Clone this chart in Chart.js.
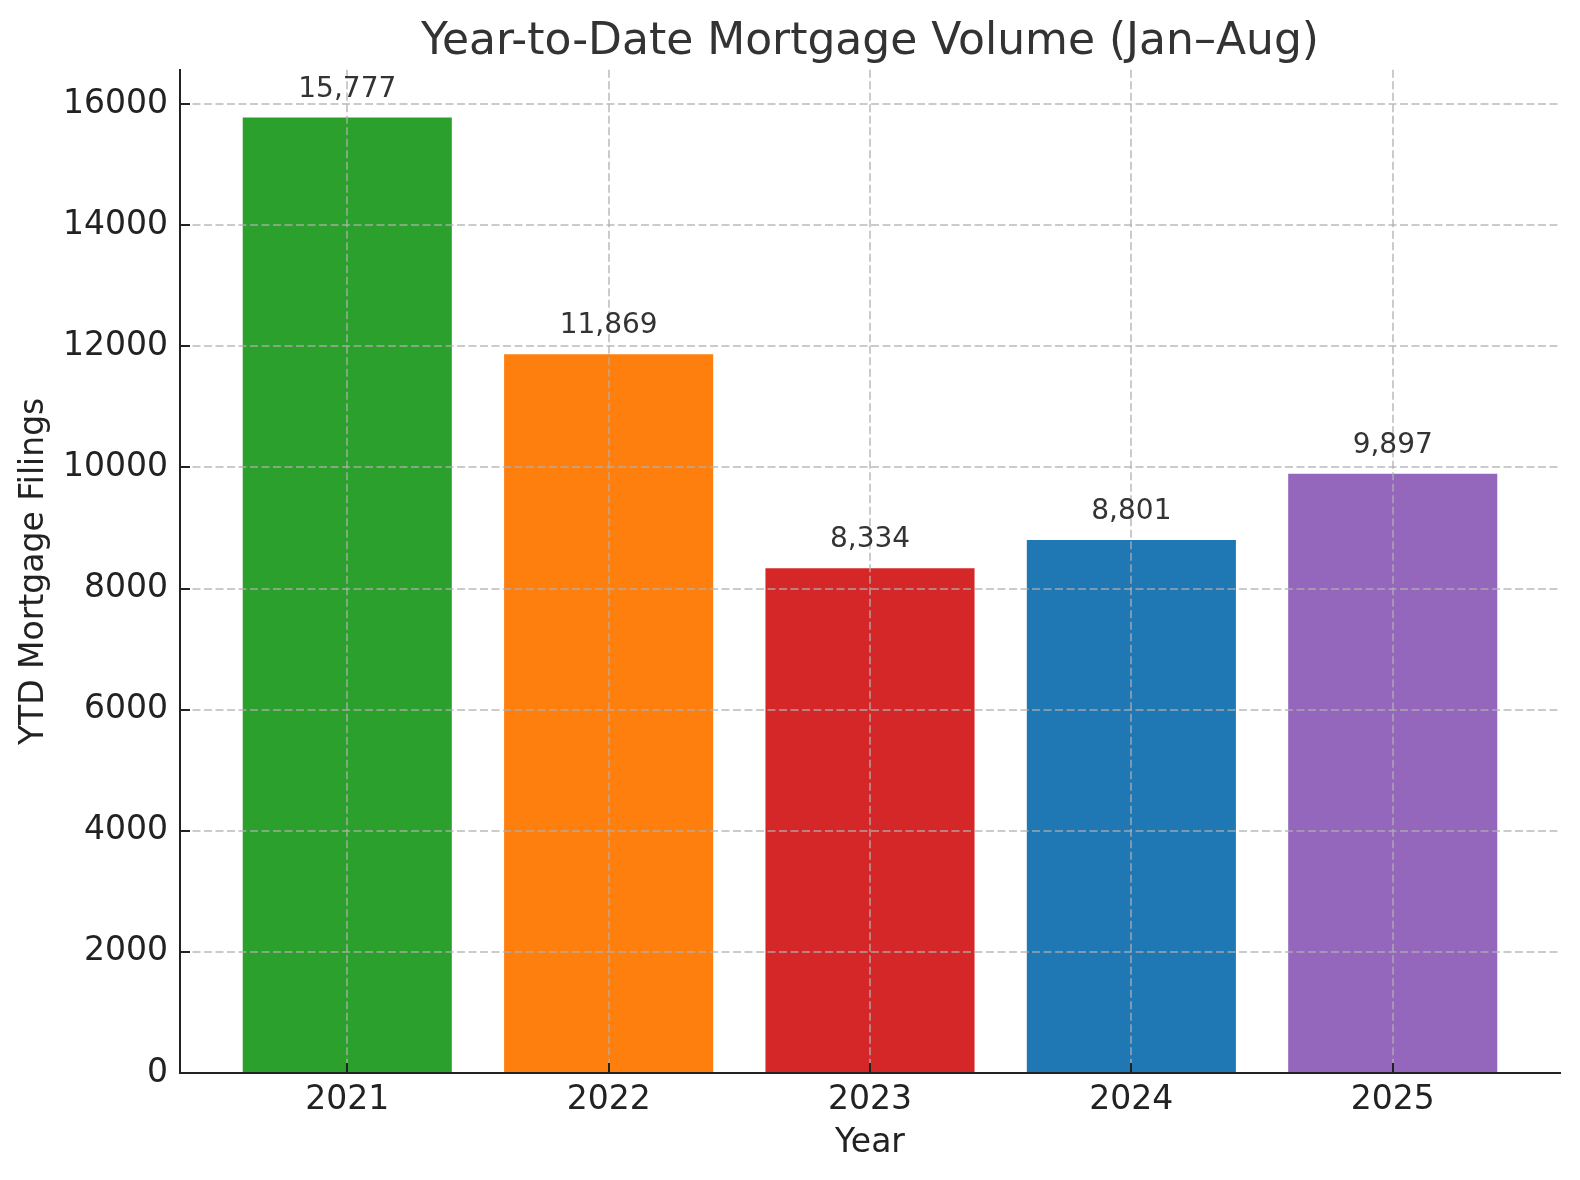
<!DOCTYPE html>
<html>
<head>
<meta charset="utf-8">
<title>Year-to-Date Mortgage Volume</title>
<script src="https://cdn.jsdelivr.net/npm/chart.js@4/dist/chart.umd.min.js"></script>
<style>
  html, body { margin:0; padding:0; background:#fff; }
  #wrap { width:1580px; height:1180px; }
</style>
</head>
<body>
<div id="wrap"><canvas id="chart" width="1580" height="1180"></canvas></div>
<script>
// ── data ──────────────────────────────────────────────────────────────────────
const years   = ['2021', '2022', '2023', '2024', '2025'];
const filings = [15777, 11869, 8334, 8801, 9897];
const yTicks  = [0, 2000, 4000, 6000, 8000, 10000, 12000, 14000, 16000];

const barColors = ['#2ca02c', '#ff7f0e', '#d62728', '#1f77b4', '#9467bd'];
const FONT = "'DejaVu Sans', 'Liberation Sans', sans-serif";
const GRID = 'rgba(175,175,175,0.65)';

// matplotlib-like limits: bar width .8, 5% margins
const xPad = 0.4 + (years.length - 1 + 0.8) * 0.05;
const yMax = Math.max(...filings) * 1.05;

// inward tick marks + value labels over bars
const extras = {
  id: 'extras',
  afterDraw(chart) {
    const ctx = chart.ctx, area = chart.chartArea;
    const xs = chart.scales.x, ys = chart.scales.y;
    ctx.save();
    ctx.strokeStyle = '#222'; ctx.lineWidth = 2;
    ctx.beginPath();
    yTicks.forEach(v => { const y = Math.round(ys.getPixelForValue(v)); ctx.moveTo(area.left, y); ctx.lineTo(area.left + 10, y); });
    years.forEach((_, i) => { const x = Math.round(xs.getPixelForValue(i)); ctx.moveTo(x, area.bottom); ctx.lineTo(x, area.bottom - 10); });
    ctx.stroke();

    ctx.fillStyle = '#333';
    ctx.font = '28px ' + FONT;
    ctx.textAlign = 'center'; ctx.textBaseline = 'alphabetic';
    chart.getDatasetMeta(0).data.forEach((bar, i) => {
      ctx.fillText(filings[i].toLocaleString('en-US'), bar.x, bar.y - 21);
    });
    ctx.restore();
  }
};

new Chart(document.getElementById('chart'), {
  type: 'bar',
  data: {
    datasets: [{
      data: filings.map((v, i) => ({ x: i, y: v })),
      backgroundColor: barColors,
      borderWidth: 0,
      barPercentage: 0.8,
      categoryPercentage: 1,
    }]
  },
  options: {
    responsive: false,
    animation: false,
    layout: { padding: { left: 0, right: 20, top: 0, bottom: 0 } },
    plugins: {
      legend: { display: false },
      tooltip: { enabled: false },
      title: {
        display: true, fullSize: false,
        text: 'Year-to-Date Mortgage Volume (Jan–Aug)',
        color: '#333',
        font: { family: FONT, size: 44, weight: 'normal', lineHeight: 1.2 },
        padding: { top: 16, bottom: 1 },
      },
    },
    scales: {
      x: {
        type: 'linear',
        offset: false,
        min: -xPad, max: years.length - 1 + xPad,
        afterBuildTicks: s => { s.ticks = years.map((_, i) => ({ value: i })); },
        afterFit: s => { s.height = 107; },
        grid: { z: 1, offset: false, color: GRID, lineWidth: 2, drawTicks: false, tickLength: 0 },
        border: { display: true, color: '#222', width: 2, z: 2, dash: [8, 3.5] },
        ticks: {
          color: '#222', padding: 8, maxRotation: 0,
          font: { family: FONT, size: 33 },
          callback: v => years[v],
        },
        title: {
          display: true, text: 'Year', color: '#222',
          font: { family: FONT, size: 33, lineHeight: 1.2 },
          padding: { top: 0, bottom: 17 },
        },
      },
      y: {
        min: 0, max: yMax,
        afterBuildTicks: s => { s.ticks = yTicks.map(v => ({ value: v })); },
        afterFit: s => { s.width = 180; },
        grid: { z: 1, color: GRID, lineWidth: 2, drawTicks: false, tickLength: 0 },
        border: { display: true, color: '#222', width: 2, z: 2, dash: [8, 3.5] },
        ticks: {
          color: '#222', padding: 12,
          font: { family: FONT, size: 33 },
          callback: v => String(v),
        },
        title: {
          display: true, text: 'YTD Mortgage Filings', color: '#222',
          font: { family: FONT, size: 33, lineHeight: 1.2 },
          padding: { top: 15, bottom: 0 },
        },
      },
    },
  },
  plugins: [extras],
});
</script>
</body>
</html>
